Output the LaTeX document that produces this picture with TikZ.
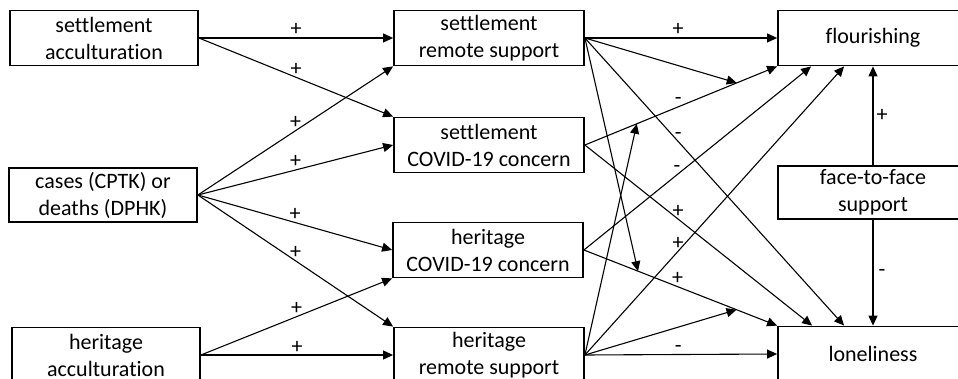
\documentclass[tikz,border=0pt]{standalone}
\usepackage{fontspec}
\setmainfont{Carlito}[Ligatures={NoCommon}]
\usetikzlibrary{arrows.meta}
\begin{document}
\begin{tikzpicture}[x=1pt,y=-1pt,
  txt/.style={font=\fontsize{22}{27}\selectfont},
  box/.style={txt, draw, line width=1.8pt, minimum width=188pt, minimum height=55pt, align=center, inner sep=0pt},
  arr/.style={-{Triangle[length=10pt,width=9pt]}, line width=1.1pt},
  lab/.style={txt, anchor=base, yshift=2pt, inner sep=0pt},
  vlab/.style={txt, anchor=center, xshift=9pt, inner sep=0pt}]
\useasboundingbox (0,0) rectangle (958,379);
\clip (0,0) rectangle (958,379);
\fill[white] (0,0) rectangle (958,379);
% left column
\node[box] (sa) at (104,38) {settlement\\acculturation};
\node[box, minimum height=54pt] (cases) at (103,195) {cases (CPTK) or\\deaths (DPHK)};
\node[box] (ha) at (106,355) {heritage\\acculturation};
% middle column
\node[box, minimum width=190pt] (srs) at (489,38) {settlement\\remote support};
\node[box, minimum width=190pt] (scc) at (489,145) {settlement\\COVID-19 concern};
\node[box, minimum width=190pt] (hcc) at (488,250) {heritage\\COVID-19 concern};
\node[box, minimum width=190pt] (hrs) at (489,355) {heritage\\remote support};
% right column
\node[box, minimum width=190pt] (flo) at (873,38) {flourishing};
\node[box, minimum width=190pt, minimum height=53pt] (f2f) at (873,192.5) {face-to-face\\support};
\node[box, minimum width=190pt] (lon) at (873,354) {loneliness};
% left to middle
\draw[arr] (sa.east) -- node[lab]{+} (srs.west);
\draw[arr] (sa.east) -- node[lab]{+} (scc.north west);
\draw[arr] (cases.east) -- node[lab]{+} (srs.south west);
\draw[arr] (cases.east) -- node[lab]{+} (scc.west);
\draw[arr] (cases.east) -- node[lab]{+} (hcc.west);
\draw[arr] (cases.east) -- node[lab]{+} (hrs.north west);
\draw[arr] (ha.east) -- node[lab]{+} (hcc.south west);
\draw[arr] (ha.east) -- node[lab]{+} (hrs.west);
% middle to right
\draw[arr] (srs.east) -- node[lab, pos=0.485]{+} (flo.west);
\draw[arr] (scc.east) -- coordinate[pos=0.27] (m2) coordinate[pos=0.79] (m1) node[lab, pos=0.485]{-} (flo.south west);
\draw[arr] (hcc.east) -- coordinate[pos=0.28] (m3) coordinate[pos=0.79] (m4) node[lab, pos=0.485]{+} (lon.north west);
\draw[arr] (srs.east) -- node[lab, pos=0.36]{-} ([xshift=67pt]lon.north west);
\draw[arr] (scc.east) -- node[lab, pos=0.41]{+} ([xshift=35pt]lon.north west);
\draw[arr] (hcc.east) -- node[lab, pos=0.41]{-} ([xshift=34pt]flo.south west);
\draw[arr] (hrs.east) -- node[lab, pos=0.36]{+} ([xshift=67pt]flo.south west);
\draw[arr] (hrs.east) -- node[lab, pos=0.485]{-} (lon.west);
% moderation arrows
\draw[arr] (srs.east) -- (m1);
\draw[arr] (srs.east) -- (m3);
\draw[arr] (hrs.east) -- (m2);
\draw[arr] (hrs.east) -- (m4);
% face-to-face support
\draw[arr] (f2f.north) -- node[vlab]{+} (flo.south);
\draw[arr] (f2f.south) -- node[vlab]{-} (lon.north);
\end{tikzpicture}
\end{document}
